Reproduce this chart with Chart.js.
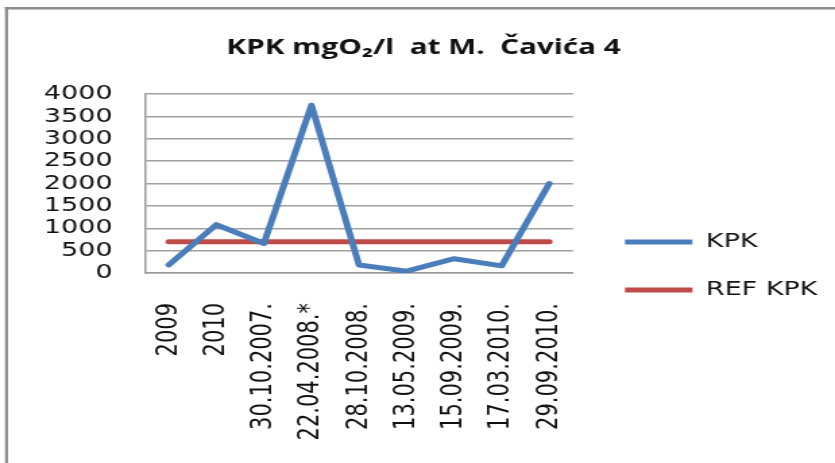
<!DOCTYPE html>
<html>

<head>
    <meta charset="utf-8">
    <style>
        body {
            margin: 0;
            background: #ffffff;
        }

        #kpkChart {
            display: block;
        }
    </style>
</head>

<body>
    <canvas id="kpkChart" width="619" height="463" style="width: 835px; height: 463px;"></canvas>

    <script src="https://cdn.jsdelivr.net/npm/chart.js@4/dist/chart.umd.min.js"></script>
    <script>
        const sampleDates = ['2009', '2010', '30.10.2007.', '22.04.2008.*', '28.10.2008.', '13.05.2009.', '15.09.2009.', '17.03.2010.', '29.09.2010.'];
        const kpkValues = [180, 1080, 660, 3750, 180, 40, 320, 160, 2000];
        const refKpkValues = [700, 700, 700, 700, 700, 700, 700, 700, 700];
        const yTicks = [0, 500, 1000, 1500, 2000, 2500, 3000, 3500, 4000];

        // the picture is stretched sideways, so the canvas is drawn narrower and widened by css
        const stretch = 835 / 619;

        const frame = {
            id: 'frame',
            beforeDraw(chart) {
                const ctx = chart.ctx;
                ctx.save();
                ctx.fillStyle = '#8c8c8c';
                ctx.fillRect(5 / stretch, 7, chart.width, 2.5);
                ctx.fillRect(5 / stretch, 7, 3 / stretch, chart.height);
                ctx.restore();
            }
        };

        // legend sits a little further right of the plot than chart.js leaves it
        const legendShift = {
            id: 'legendShift',
            afterLayout(chart) {
                chart.legend.left += 10.5;
                chart.legend.right += 10.5;
            }
        };

        const kpkChart = new Chart(document.getElementById('kpkChart'), {
            type: 'line',
            data: {
                labels: sampleDates,
                datasets: [
                    {
                        label: 'KPK',
                        data: kpkValues,
                        borderColor: '#4a7ebb',
                        backgroundColor: '#4a7ebb',
                        borderWidth: 5,
                        borderCapStyle: 'round',
                        borderJoinStyle: 'round',
                        pointRadius: 0,
                        tension: 0
                    },
                    {
                        label: 'REF KPK',
                        data: refKpkValues,
                        borderColor: '#be4b48',
                        backgroundColor: '#be4b48',
                        borderWidth: 5,
                        borderCapStyle: 'round',
                        pointRadius: 0,
                        tension: 0
                    }
                ]
            },
            options: {
                responsive: false,
                animation: false,
                devicePixelRatio: 1,
                layout: {
                    padding: { left: 32.5, right: 23.5, top: 10, bottom: 0 }
                },
                plugins: {
                    title: {
                        display: true,
                        text: 'KPK mgO₂/l  at M.  Čavića 4',
                        color: '#111111',
                        font: { family: 'Open Sans', size: 22, weight: 'bold' },
                        padding: { top: 24.8, bottom: 32.8 }
                    },
                    legend: {
                        position: 'right',
                        align: 'start',
                        maxWidth: 170.7,
                        title: {
                            display: true,
                            text: ' ',
                            font: { size: 10 },
                            padding: { top: 182, bottom: 0 }
                        },
                        labels: {
                            usePointStyle: true,
                            pointStyle: 'line',
                            pointStyleWidth: 50,
                            padding: 28,
                            color: '#111111',
                            font: { family: 'DejaVu Sans', size: 20 }
                        }
                    },
                    tooltip: { enabled: false }
                },
                scales: {
                    x: {
                        offset: true,
                        grid: { display: false },
                        border: { display: true, color: '#9a9a9a', width: 1.5 },
                        ticks: {
                            autoSkip: false,
                            minRotation: 90,
                            maxRotation: 90,
                            padding: 22,
                            color: '#111111',
                            font: { family: 'DejaVu Sans', size: 21 }
                        },
                        afterFit(scale) {
                            scale.height = 190;
                        }
                    },
                    y: {
                        min: 0,
                        max: 4000,
                        afterBuildTicks(scale) {
                            scale.ticks = yTicks.map(value => ({ value }));
                        },
                        grid: { color: '#a0a0a0', lineWidth: 1.5, drawTicks: false },
                        border: { display: true, color: '#9a9a9a', width: 1.5 },
                        ticks: {
                            autoSkip: false,
                            padding: 24,
                            color: '#111111',
                            font: { family: 'DejaVu Sans', size: 20 },
                            callback: value => String(value)
                        },
                        afterFit(scale) {
                            scale.width = 75;
                        }
                    }
                }
            },
            plugins: [frame, legendShift]
        });
    </script>
</body>

</html>
